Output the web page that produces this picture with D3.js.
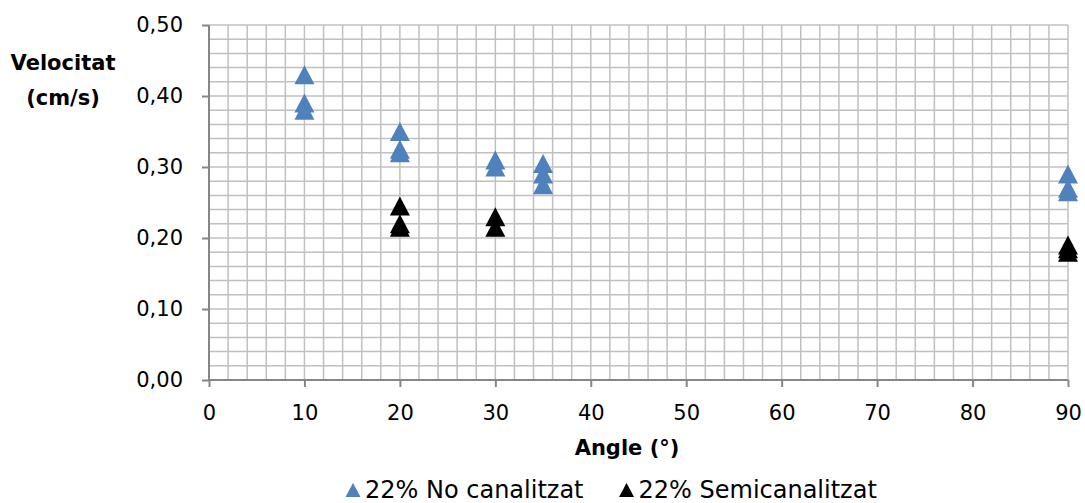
<!DOCTYPE html>
<html>
<head>
<meta charset="utf-8">
<script src="https://cdn.jsdelivr.net/npm/d3@7"></script>
<style>
  body { margin: 0; background: #fff; }
  svg text { font-family: "DejaVu Sans", sans-serif; fill: #000; }
</style>
</head>
<body>
<div id="chart"></div>
<script>
// Series: 22% No canalitzat (blue)
const noCanAngle = [10, 10, 10, 20, 20, 20, 30, 30, 35, 35, 35, 90, 90, 90];
const noCanVel = [0.43, 0.39, 0.38, 0.35, 0.325, 0.32, 0.31, 0.30, 0.305, 0.29, 0.275, 0.29, 0.27, 0.265];

// Series: 22% Semicanalitzat (black)
const semiAngle = [20, 20, 20, 30, 30, 90, 90, 90];
const semiVel = [0.245, 0.22, 0.215, 0.23, 0.215, 0.19, 0.185, 0.18];

const xTicks = [0, 10, 20, 30, 40, 50, 60, 70, 80, 90];
const yTicks = [0, 0.1, 0.2, 0.3, 0.4, 0.5];

const series = [
    {name: '22% No canalitzat', color: '#4F81BD', xs: noCanAngle, ys: noCanVel},
    {name: '22% Semicanalitzat', color: '#000000', xs: semiAngle, ys: semiVel}
];

const W = 1085, H = 503;
const margin = {top: 25, right: 17, bottom: 123, left: 209};
const width = W - margin.left - margin.right;
const height = H - margin.top - margin.bottom;

const svg = d3.select('#chart').append('svg')
    .attr('width', W)
    .attr('height', H);

const g = svg.append('g')
    .attr('transform', `translate(${margin.left},${margin.top})`);

const x = d3.scaleLinear().domain([0, 90]).range([0, width]);
const y = d3.scaleLinear().domain([0, 0.5]).range([height, 0]);

// grid (minor: every 2 on x, every 0.02 on y)
const gridX = d3.range(0, 91, 2);
const gridY = d3.range(0, 26).map(i => i * 0.02);

g.append('g').selectAll('line')
    .data(gridX)
    .enter().append('line')
    .attr('x1', d => x(d)).attr('x2', d => x(d))
    .attr('y1', 0).attr('y2', height)
    .attr('stroke', '#c0c0c0')
    .attr('stroke-width', 1.5);

g.append('g').selectAll('line')
    .data(gridY)
    .enter().append('line')
    .attr('x1', 0).attr('x2', width)
    .attr('y1', d => y(d)).attr('y2', d => y(d))
    .attr('stroke', '#c0c0c0')
    .attr('stroke-width', 1.5);

// axes
const fmt = d => d.toFixed(2).replace('.', ',');

const yAxis = g.append('g')
    .call(d3.axisLeft(y).tickValues(yTicks).tickSize(7).tickPadding(19).tickFormat(fmt));
yAxis.selectAll('text').attr('font-size', '21px');

const xAxis = g.append('g')
    .attr('transform', `translate(0,${height})`)
    .call(d3.axisBottom(x).tickValues(xTicks).tickSize(7).tickPadding(18).tickFormat(d3.format('d')));
xAxis.selectAll('text').attr('font-size', '21px');

svg.selectAll('.domain, .tick line')
    .attr('stroke', '#868686')
    .attr('stroke-width', 2);
yAxis.select('.domain').attr('d', `M0,${height}V0`);
xAxis.select('.domain').attr('d', `M0,0H${width}`);

// triangle marker path centred on its box
function tri(w, h) {
    return `M0,${-h / 2}L${w / 2},${h / 2}L${-w / 2},${h / 2}Z`;
}

series.forEach(s => {
    const pts = s.xs.map((a, i) => ({a: a, v: s.ys[i]}));
    g.append('g').selectAll('path')
        .data(pts)
        .enter().append('path')
        .attr('d', tri(20, 19))
        .attr('transform', d => `translate(${x(d.a)},${y(d.v)})`)
        .attr('fill', s.color);
});

// axis titles
svg.append('text')
    .attr('x', 63).attr('y', 70)
    .attr('text-anchor', 'middle')
    .attr('font-size', '21px')
    .attr('font-weight', 'bold')
    .text('Velocitat');
svg.append('text')
    .attr('x', 63).attr('y', 105)
    .attr('text-anchor', 'middle')
    .attr('font-size', '21px')
    .attr('font-weight', 'bold')
    .text('(cm/s)');

svg.append('text')
    .attr('x', 627).attr('y', 455)
    .attr('text-anchor', 'middle')
    .attr('font-size', '21px')
    .attr('font-weight', 'bold')
    .text('Angle (°)');

// legend
const legend = svg.append('g').attr('transform', 'translate(0,490)');
let lx = 346;
series.forEach(s => {
    legend.append('path')
        .attr('d', tri(15, 14))
        .attr('transform', `translate(${lx + 7},0)`)
        .attr('fill', s.color);
    const t = legend.append('text')
        .attr('x', lx + 19)
        .attr('y', 8)
        .attr('font-size', '24px')
        .text(s.name);
    lx += 19 + t.node().getComputedTextLength() + 36;
});
</script>
</body>
</html>
